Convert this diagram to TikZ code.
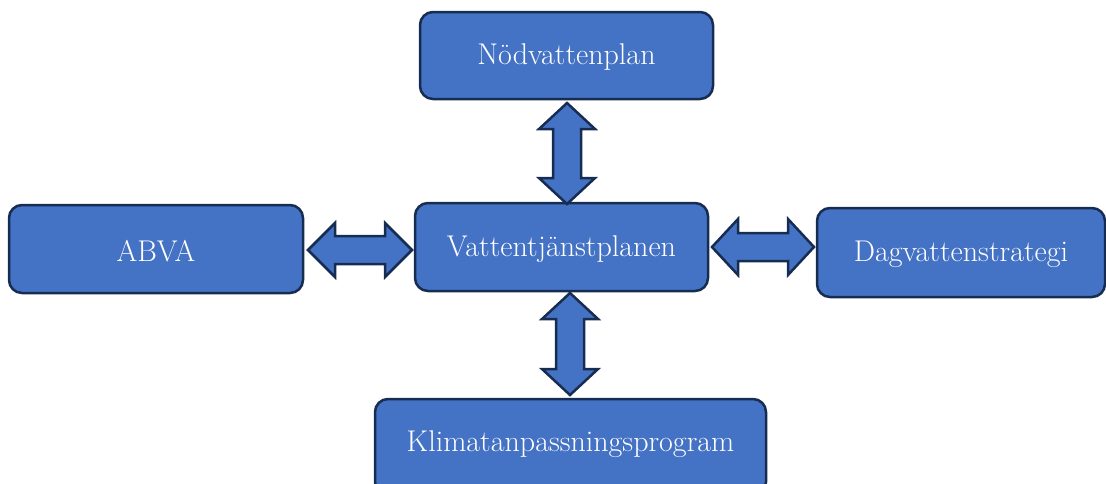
\documentclass[tikz,border=0pt]{standalone}
\usepackage{fontspec}
\begin{document}
\begin{tikzpicture}[x=1pt,y=-1pt,
  box/.style={draw=boxline, fill=boxfill, line width=2.5pt, rounded corners=13pt},
  lbl/.style={text=white, font=\fontsize{30}{34}\selectfont, inner sep=0pt},
  barrow/.style={draw=boxline, fill=boxfill, line width=2.5pt, line join=miter}]
\definecolor{boxfill}{HTML}{4472C4}
\definecolor{boxline}{HTML}{172C51}
\useasboundingbox (0,0) rectangle (1106,483);
\begin{scope}
\clip (0,0) rectangle (1106,483);
% boxes
\draw[box] (420,12) rectangle (713,99);
\node[lbl] (nod) at (566.5,57) {Nödvattenplan};
\draw[box] (415,203) rectangle (708,291);
\node[lbl] (vtp) at (561.5,249) {Vattentjänstplanen};
\draw[box] (9,205) rectangle (303,293);
\node[lbl] (abva) at (156,251) {ABVA};
\draw[box] (817,208) rectangle (1105,297);
\node[lbl] (dag) at (961,254) {Dagvattenstrategi};
\draw[box] (375,399) rectangle (766,495);
\node[lbl] (klim) at (570.5,444) {Klimatanpassningsprogram};
% block arrows
% top vertical
\draw[barrow] (567,103) -- (595,129) -- (581,129) -- (581,178) -- (595,178) -- (567,204)
  -- (539,178) -- (553,178) -- (553,129) -- (539,129) -- cycle;
% bottom vertical
\draw[barrow] (570,293) -- (598,319) -- (584,319) -- (584,369) -- (598,369) -- (570,395)
  -- (542,369) -- (556,369) -- (556,319) -- (542,319) -- cycle;
% left horizontal
\draw[barrow] (308,250) -- (335,223) -- (335,236) -- (385,236) -- (385,223) -- (412,250)
  -- (385,277) -- (385,264) -- (335,264) -- (335,277) -- cycle;
% right horizontal
\draw[barrow] (712,247) -- (738,219) -- (738,233) -- (788,233) -- (788,219) -- (814,247)
  -- (788,275) -- (788,261) -- (738,261) -- (738,275) -- cycle;
\end{scope}
\end{tikzpicture}
\end{document}
